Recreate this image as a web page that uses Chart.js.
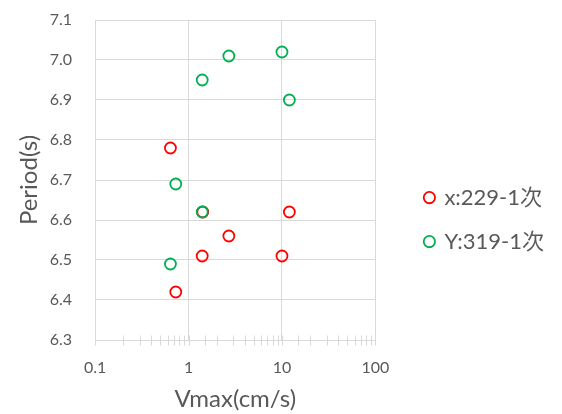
<!DOCTYPE html>
<html><head><meta charset="utf-8">
<script src="https://cdn.jsdelivr.net/npm/chart.js@4/dist/chart.umd.min.js"></script>
<style>html,body{margin:0;padding:0;background:#fff}</style>
</head><body><canvas id="c" width="562" height="414"></canvas>
<script>
const seriesNames = ['x:229-1次', 'Y:319-1次'];
const xVmax   = [0.64, 1.42, 12, 2.7, 1.4, 10, 0.73];
const xPeriod = [6.78, 6.62, 6.62, 6.56, 6.51, 6.51, 6.42];
const yVmax   = [10, 2.7, 1.4, 12, 0.73, 1.4, 0.64];
const yPeriod = [7.02, 7.01, 6.95, 6.90, 6.69, 6.62, 6.49];
const xDecadeLabels = [0.1, 1, 10, 100];
const xTitle = 'Vmax(cm/s)';
const yTitle = 'Period(s)';

const FONT = 'Lato, "Noto Sans CJK JP", sans-serif';
const TXT = '#595959';
const GRID = '#d9d9d9';
const CLEAR = 'rgba(0,0,0,0)';
const LEGEND_GAP = 28;
const isDecade = v => xDecadeLabels.some(d => Math.abs(v - d) < 1e-9);

const toPts = (xs, ys) => xs.map((x, i) => ({x: x, y: ys[i]}));

const minorTicks = {
  id: 'minorTicks',
  afterDatasetsDraw(chart) {
    const sx = chart.scales.x, ctx = chart.ctx, b = Math.round(chart.chartArea.bottom) + 0.5;
    ctx.save();
    ctx.strokeStyle = GRID; ctx.lineWidth = 1;
    sx.ticks.forEach(t => {
      const px = Math.round(sx.getPixelForValue(t.value)) + 0.5;
      ctx.beginPath(); ctx.moveTo(px, b - 5); ctx.lineTo(px, b + 5); ctx.stroke();
    });
    ctx.restore();
  }
};

// widen the legend box (no width cap) and keep a gap between plot area and legend items
const legendGap = {
  id: 'legendGap',
  beforeLayout(chart) {
    const lg = chart.legend;
    if (lg && !lg._gapPatched) {
      const origUpdate = lg.update.bind(lg);
      lg.update = (maxW, maxH, margins) => origUpdate(400, maxH, margins);
      const origFit = lg.fit.bind(lg);
      lg.fit = function () { origFit(); this.width += LEGEND_GAP; };
      lg._gapPatched = true;
    }
  },
  afterLayout(chart) {
    const lg = chart.legend;
    if (lg) { lg.left += LEGEND_GAP; }
  }
};

new Chart(document.getElementById('c'), {
  type: 'scatter',
  data: {
    datasets: [
      {label: seriesNames[0], order: 1, data: toPts(xVmax, xPeriod), borderColor: '#ff0000', backgroundColor: CLEAR, pointRadius: 5.5, pointBorderWidth: 1.8, pointStyle: 'circle'},
      {label: seriesNames[1], order: 0, data: toPts(yVmax, yPeriod), borderColor: '#00b050', backgroundColor: CLEAR, pointRadius: 5.5, pointBorderWidth: 1.8, pointStyle: 'circle'}
    ]
  },
  options: {
    responsive: false, animation: false, devicePixelRatio: 1,
    layout: {padding: {top: 20, left: 15, right: 8, bottom: 0}},
    plugins: {
      tooltip: {enabled: false},
      legend: {
        position: 'right',
        title: {display: true, text: ' ', font: {size: 1}, padding: 2},
        labels: {usePointStyle: true, pointStyle: 'circle', boxWidth: 8, boxHeight: 8, padding: 22,
                 color: TXT, font: {family: FONT, size: 22},
                 sort: (a, b) => a.datasetIndex - b.datasetIndex}
      }
    },
    scales: {
      x: {
        type: 'logarithmic', min: 0.1, max: 100,
        title: {display: true, text: xTitle, color: TXT, font: {family: FONT, size: 24}, padding: {top: 8, bottom: 0}},
        grid: {color: c => (c.tick && isDecade(c.tick.value)) ? GRID : CLEAR, drawTicks: true, tickLength: 18, tickColor: CLEAR},
        border: {display: false},
        ticks: {autoSkip: false, maxRotation: 0, padding: 0, color: TXT, font: {family: FONT, size: 16},
                callback: v => isDecade(v) ? String(v) : ''}
      },
      y: {
        min: 6.3, max: 7.1,
        title: {display: true, text: yTitle, color: TXT, font: {family: FONT, size: 24}, padding: {top: 0, bottom: 6}},
        grid: {color: GRID, drawTicks: true, tickLength: 23, tickColor: CLEAR},
        border: {display: false},
        ticks: {stepSize: 0.1, padding: 0, color: TXT, font: {family: FONT, size: 16},
                callback: v => Number(v).toFixed(1)}
      }
    }
  },
  plugins: [minorTicks, legendGap]
});
</script></body></html>
